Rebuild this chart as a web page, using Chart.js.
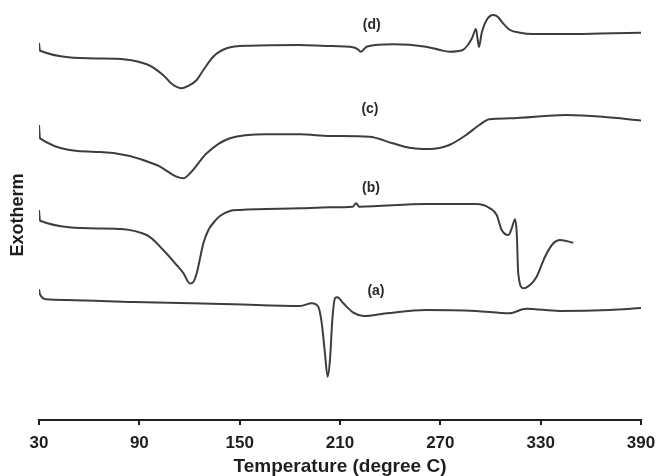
<!DOCTYPE html>
<html>
<head>
<meta charset="utf-8">
<script src="https://cdn.jsdelivr.net/npm/chart.js@4/dist/chart.umd.min.js"></script>
<style>
  html, body { margin: 0; padding: 0; background: #fff; }
  #wrap { width: 656px; height: 476px; }
</style>
</head>
<body>
<div id="wrap"><canvas id="c" width="656" height="476"></canvas></div>
<script>
// Temperature (degree C) and heat-flow (arbitrary units, curves offset vertically)
const tempA = [30, 30.6, 34.6, 46.6, 86.4, 146.2, 186.1, 193.1, 197.0, 199.1, 201.0, 202.6, 204.0, 205.4, 207.0, 208.4, 212.0, 218.0, 224.0, 237.9, 261.4, 291.3, 311.3, 321.2, 341.2, 371.1, 390];
const flowA = [130.7, 125.7, 120.7, 120, 118, 115.7, 114, 116.7, 113.3, 96.7, 66.7, 43.3, 60, 100, 121.7, 122.7, 116.7, 107.3, 104, 106.7, 110, 109, 106.7, 111.3, 109, 110, 112];

const tempB = [30, 30.6, 66.5, 94.4, 104.3, 112.3, 116.3, 120.3, 122.3, 124.3, 128.3, 131.3, 134.2, 138.2, 144.2, 150.2, 186.1, 204.0, 217.6, 219.6, 221.5, 261.4, 291.3, 299.7, 303.7, 306.7, 310.7, 312.7, 314.7, 315.7, 316.6, 319.6, 323.6, 327.6, 332.6, 337.6, 341.6, 349.5];
const flowB = [210, 199.3, 191.6, 185, 170, 155, 147, 136.5, 138, 146.7, 176.7, 190, 197, 204, 209, 210, 211.7, 212.7, 213.3, 216.7, 213.3, 216, 216, 211.7, 205, 190, 185, 191.7, 200.7, 186.7, 146.7, 131.7, 135, 143.3, 163.3, 176.7, 180, 177.3];

const tempC = [30, 30.6, 66.5, 100.4, 112.3, 116.3, 120.3, 130.3, 144.2, 166.2, 186.1, 204.0, 227.5, 241.5, 251.5, 263.4, 275.4, 285.4, 293.3, 299.3, 311.3, 345.2, 367.1, 390];
const flowC = [295, 281.7, 268, 255, 243.3, 241.7, 246.7, 266.7, 281.7, 285.7, 285.7, 284, 283.3, 276.7, 272.3, 271, 275, 285, 295, 300.7, 301.7, 305, 303.3, 299.5];

const tempD = [30, 30.6, 66.5, 95.2, 104.2, 109.5, 115.3, 119.1, 124.3, 128.3, 134.2, 142.2, 156.2, 186.1, 201.6, 218.4, 220.8, 222.6, 224.4, 226.2, 241.5, 261.4, 269.8, 275.4, 283.4, 286.0, 289.0, 291.3, 292.2, 293.1, 294.7, 297.7, 301.7, 304.5, 306.7, 311.7, 317.6, 325.4, 341.6, 365.5, 390];
const flowD = [377, 369.3, 361.5, 355.3, 345, 336, 331.7, 334, 340, 350, 363.3, 371.7, 374.3, 375, 374, 372.5, 370.5, 368.3, 371, 373.5, 375.7, 373.3, 370, 368.3, 370, 374, 382, 391, 382, 373, 386.7, 400, 405, 403, 398.3, 390, 387.3, 386, 386, 386.5, 387.3];

const curveNames = ['(a)', '(b)', '(c)', '(d)'];
const xTicks = [30, 90, 150, 210, 270, 330, 390];

const pairs = (t, v) => t.map((x, i) => ({ x: x, y: v[i] }));
const series = [pairs(tempA, flowA), pairs(tempB, flowB), pairs(tempC, flowC), pairs(tempD, flowD)];

const lineColor = '#3d3d3d';
const axisColor = '#1e1e1e';

const curveLabels = {
  id: 'curveLabels',
  afterDatasetsDraw(chart, args, opts) {
    const ctx = chart.ctx;
    const xs = chart.scales.x, ys = chart.scales.y;
    ctx.save();
    ctx.font = opts.font;
    ctx.fillStyle = opts.color;
    ctx.textAlign = 'center';
    ctx.textBaseline = 'middle';
    opts.items.forEach(it => {
      ctx.fillText(it.text, xs.getPixelForValue(it.x), ys.getPixelForValue(it.y));
    });
    ctx.restore();
  }
};

new Chart(document.getElementById('c'), {
  type: 'line',
  data: {
    datasets: series.map((d, i) => ({
      label: curveNames[i],
      data: d,
      borderColor: lineColor,
      borderWidth: 2,
      pointRadius: 0,
      fill: false,
      cubicInterpolationMode: 'monotone'
    }))
  },
  options: {
    responsive: false,
    animation: false,
    devicePixelRatio: 1,
    layout: { padding: { left: 9, right: 15, top: 10, bottom: 0 } },
    plugins: {
      legend: { display: false },
      tooltip: { enabled: false },
      curveLabels: {
        font: 'bold 14px "Liberation Sans", Arial, sans-serif',
        color: '#2a2a2a',
        items: [
          { text: curveNames[3], x: 229, y: 395 },
          { text: curveNames[2], x: 227.9, y: 311 },
          { text: curveNames[1], x: 228.5, y: 232 },
          { text: curveNames[0], x: 231.5, y: 129 }
        ]
      }
    },
    scales: {
      x: {
        type: 'linear',
        min: 30,
        max: 390,
        afterBuildTicks: (scale) => { scale.ticks = xTicks.map(v => ({ value: v })); },
        afterFit: (scale) => { scale.height = 56; scale.paddingLeft = 0; scale.paddingRight = 0; },
        ticks: {
          color: axisColor,
          padding: 8,
          font: { family: '"Liberation Sans", Arial, sans-serif', size: 17, weight: 'bold', lineHeight: 1.2 }
        },
        grid: { display: true, drawOnChartArea: false, drawTicks: true, tickLength: 5, color: axisColor, lineWidth: 2 },
        border: { display: true, color: axisColor, width: 2 },
        title: {
          display: true,
          text: 'Temperature (degree C)',
          color: axisColor,
          padding: { top: 4, bottom: 0 },
          font: { family: '"Liberation Sans", Arial, sans-serif', size: 19, weight: 'bold', lineHeight: 1 }
        }
      },
      y: {
        type: 'linear',
        min: 0,
        max: 410,
        ticks: { display: false },
        grid: { display: false, drawTicks: false },
        border: { display: false },
        title: {
          display: true,
          text: 'Exotherm',
          color: axisColor,
          padding: { top: 0, bottom: 12 },
          font: { family: '"Liberation Sans", Arial, sans-serif', size: 18, weight: 'bold', lineHeight: 1 }
        }
      }
    }
  },
  plugins: [curveLabels]
});
</script>
</body>
</html>
